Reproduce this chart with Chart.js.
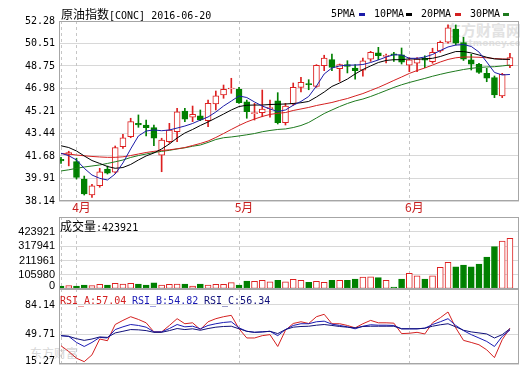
<!DOCTYPE html>
<html>
<head>
<meta charset="utf-8">
<title>原油指数[CONC] 2016-06-20</title>
<script src="https://cdn.jsdelivr.net/npm/chart.js@4.4.1/dist/chart.umd.min.js"></script>
<style>
  html, body { margin: 0; padding: 0; background: #fff; }
  #wrap { position: relative; width: 520px; height: 365px; overflow: hidden; background: #fff; }
  #wrap canvas { position: absolute; left: 0; }
  .t { position: absolute; white-space: nowrap; font: 10px 'DejaVu Sans Mono', monospace; line-height: 12px; color: #000; }
  .cjk { font: 12px 'Noto Sans CJK SC', sans-serif; line-height: 12px; }
  .mk { position: absolute; width: 6px; height: 3px; top: 13px; }
  .wm { position: absolute; white-space: nowrap; color: #e2e2e2; font-family: 'Noto Sans CJK SC', sans-serif; }
</style>
</head>
<body>
<div id="wrap">
  <div class="wm" style="left:446px;top:22px;font-size:15px;font-weight:bold;line-height:16px;">东方财富网</div>
  <div class="wm" style="left:451px;top:38px;font:bold 9px 'DejaVu Sans';line-height:10px;">eastmoney.com</div>
  <div class="wm" style="left:30px;top:346px;font-size:12px;line-height:13px;color:#d6d6d6;">东方财富</div>

  <canvas id="main" width="520" height="216" style="top:0"></canvas>
  <canvas id="vol" width="520" height="74" style="top:216px"></canvas>
  <canvas id="rsi" width="520" height="80" style="top:289px"></canvas>

  <div class="t" style="left:61px;top:8px;"><span class="cjk">原油指数</span>[CONC] 2016-06-20</div>
  <div class="t" style="left:331px;top:8px;">5PMA</div><div class="mk" style="left:359px;background:#1c1ca8;"></div>
  <div class="t" style="left:374px;top:8px;">10PMA</div><div class="mk" style="left:406px;background:#000;"></div>
  <div class="t" style="left:421px;top:8px;">20PMA</div><div class="mk" style="left:455px;background:#d42020;"></div>
  <div class="t" style="left:470px;top:8px;">30PMA</div><div class="mk" style="left:503px;background:#1e7a1e;"></div>

  <div class="t" style="left:60px;top:220px;"><span class="cjk">成交量</span>:423921</div>

  <div class="t" style="left:60px;top:295px;color:#d42020;">RSI_A:57.04</div>
  <div class="t" style="left:132px;top:295px;color:#1a1ab4;">RSI_B:54.82</div>
  <div class="t" style="left:204px;top:295px;color:#10107a;">RSI_C:56.34</div>
</div>
<script>
// 原油指数[CONC] daily candles, 2016-03-30 .. 2016-06-20 (59 sessions)

const opens = [41.42, 41.80, 41.23, 39.87, 38.61, 39.34, 40.65, 40.40, 42.41, 43.19,
  44.24, 44.11, 43.90, 41.75, 42.80, 43.58, 45.21, 44.72, 44.84, 44.45,
  45.76, 46.47, 46.94, 46.92, 45.94, 45.00, 45.08, 45.40, 46.00, 44.29,
  45.76, 47.07, 47.34, 47.15, 48.77, 49.24, 48.53, 48.85, 48.59, 48.41,
  49.29, 49.77, 49.50, 49.71, 49.63, 48.82, 48.96, 49.35, 49.08, 49.92,
  50.61, 51.65, 50.59, 49.22, 48.88, 48.17, 47.83, 46.39, 48.77];
const highs = [41.57, 42.05, 41.50, 40.10, 39.45, 40.71, 40.89, 42.46, 43.38, 44.64,
  44.90, 44.50, 44.11, 43.07, 44.24, 45.42, 45.42, 45.60, 45.29, 46.07,
  46.78, 47.25, 47.78, 47.07, 46.07, 45.81, 46.86, 46.07, 46.65, 45.81,
  47.41, 47.86, 47.67, 48.85, 49.59, 49.69, 48.90, 49.16, 48.85, 49.37,
  49.90, 50.21, 49.69, 49.82, 50.16, 49.40, 49.40, 49.55, 50.14, 50.71,
  51.97, 51.97, 51.00, 49.66, 48.96, 48.56, 47.96, 48.17, 49.74];
const lows = [41.10, 40.90, 39.87, 38.61, 38.43, 39.22, 40.26, 40.32, 42.28, 43.11,
  43.93, 43.25, 42.48, 40.44, 42.67, 42.80, 44.37, 44.37, 44.45, 43.98,
  45.29, 46.21, 46.60, 45.81, 44.64, 44.50, 44.76, 44.72, 44.19, 44.11,
  45.66, 46.70, 46.88, 47.07, 48.38, 48.38, 47.54, 48.20, 47.72, 47.94,
  49.11, 49.24, 48.98, 49.11, 48.90, 48.30, 48.30, 48.61, 48.96, 49.82,
  50.53, 50.40, 49.18, 48.43, 48.17, 47.51, 46.26, 46.26, 48.61];
const closes = [41.28, 41.95, 40.00, 38.69, 39.34, 40.44, 40.32, 42.33, 43.11, 44.37,
  44.11, 43.90, 43.07, 42.93, 43.72, 45.15, 44.56, 44.95, 44.50, 45.81,
  46.41, 46.92, 46.98, 45.86, 45.15, 45.05, 45.37, 45.43, 44.29, 45.60,
  47.07, 47.46, 47.28, 48.80, 49.37, 48.64, 48.85, 48.72, 48.38, 49.16,
  49.82, 49.55, 49.54, 49.59, 49.04, 49.22, 49.30, 49.20, 49.82, 50.61,
  51.75, 50.53, 49.29, 48.88, 48.25, 47.78, 46.47, 48.09, 49.40];

const ma5 = [41.89, 41.70, 41.36, 40.71, 40.18, 39.92, 39.79, 40.26, 41.13, 42.23,
  43.25, 43.64, 43.72, 43.66, 43.72, 43.87, 44.03, 44.23, 44.50, 44.74,
  45.13, 45.60, 45.99, 46.39, 46.27, 45.92, 45.60, 45.37, 45.17, 45.29,
  45.66, 45.96, 46.35, 47.17, 48.12, 48.59, 48.75, 48.81, 48.82, 48.86,
  49.02, 49.22, 49.45, 49.63, 49.61, 49.35, 49.35, 49.45, 49.65, 49.96,
  50.24, 50.39, 50.43, 50.28, 49.84, 49.06, 48.24, 48.04, 48.08];
const ma10 = [42.48, 42.34, 42.07, 41.68, 41.32, 41.09, 40.85, 40.71, 40.77, 41.01,
  41.36, 41.68, 41.91, 42.23, 42.62, 43.09, 43.48, 43.76, 44.07, 44.35,
  44.66, 44.97, 45.29, 45.56, 45.66, 45.68, 45.68, 45.72, 45.74, 45.76,
  45.80, 45.86, 45.96, 46.31, 46.70, 47.14, 47.41, 47.72, 48.12, 48.47,
  48.75, 49.02, 49.18, 49.24, 49.24, 49.31, 49.28, 49.30, 49.35, 49.49,
  49.69, 49.88, 49.88, 49.77, 49.61, 49.43, 49.30, 49.27, 49.27];
const ma20 = [41.87, 41.83, 41.75, 41.69, 41.64, 41.60, 41.57, 41.57, 41.61, 41.71,
  41.83, 41.95, 42.04, 42.11, 42.16, 42.24, 42.34, 42.50, 42.66, 42.85,
  43.13, 43.44, 43.76, 44.07, 44.35, 44.58, 44.78, 44.94, 45.03, 45.09,
  45.25, 45.37, 45.49, 45.64, 45.76, 45.88, 46.04, 46.19, 46.39, 46.58,
  46.82, 47.06, 47.33, 47.61, 47.88, 48.16, 48.39, 48.59, 48.82, 49.06,
  49.26, 49.39, 49.45, 49.45, 49.43, 49.39, 49.33, 49.30, 49.27];
const ma30 = [40.50, 40.59, 40.71, 40.81, 40.89, 40.97, 41.09, 41.22, 41.36, 41.56,
  41.71, 41.83, 41.95, 42.04, 42.12, 42.23, 42.32, 42.44, 42.54, 42.74,
  42.97, 43.11, 43.17, 43.25, 43.34, 43.44, 43.58, 43.68, 43.76, 43.80,
  43.91, 44.07, 44.31, 44.66, 45.01, 45.29, 45.56, 45.80, 46.00, 46.15,
  46.35, 46.58, 46.82, 47.06, 47.27, 47.45, 47.61, 47.77, 47.94, 48.09,
  48.23, 48.35, 48.47, 48.56, 48.63, 48.67, 48.69, 48.75, 48.82];

const volumes = [22000, 25000, 22000, 30000, 25000, 35000, 30000, 42000, 37000, 42000,
  37000, 30000, 45000, 30000, 35000, 37000, 37000, 22000, 37000, 30000,
  35000, 35000, 47000, 30000, 59000, 57000, 65000, 54000, 65000, 54000,
  72000, 65000, 50000, 57000, 50000, 65000, 65000, 65000, 74000, 89000,
  91000, 84000, 65000, 15000, 74000, 117000, 97000, 74000, 97000, 161000,
  199000, 164000, 178000, 164000, 186000, 238000, 315000, 357000, 377000];

const rsiA = [36.5, 29.8, 22.0, 18.0, 25.9, 44.4, 42.4, 61.3, 66.1, 70.4,
  67.2, 63.3, 52.7, 52.7, 60.2, 68.1, 62.2, 63.3, 55.4, 64.5,
  68.1, 70.4, 72.0, 56.3, 45.6, 45.6, 48.3, 49.5, 35.7, 54.6,
  62.5, 64.5, 62.5, 70.4, 73.2, 62.2, 62.2, 60.2, 57.4, 62.2,
  66.1, 63.3, 63.3, 62.9, 50.7, 51.1, 52.2, 50.3, 63.3, 69.2,
  75.9, 57.4, 42.8, 40.4, 37.7, 31.8, 22.7, 43.6, 57.04];
const rsiB = [48.3, 47.5, 40.4, 35.7, 40.4, 46.3, 45.6, 55.4, 58.6, 61.3,
  60.2, 58.2, 52.7, 52.7, 56.6, 61.3, 58.6, 59.3, 56.3, 60.2,
  62.2, 63.7, 64.5, 57.4, 53.4, 52.2, 52.7, 53.4, 48.3, 55.4,
  60.2, 62.2, 62.2, 64.5, 65.2, 61.7, 60.2, 58.6, 56.3, 59.3,
  61.0, 60.5, 60.5, 60.2, 56.3, 56.3, 56.3, 57.0, 61.3, 64.5,
  68.1, 60.2, 54.2, 49.5, 45.6, 41.6, 35.7, 47.5, 54.82];
const rsiC = [48.3, 47.5, 44.8, 42.8, 44.4, 46.8, 46.3, 51.5, 53.4, 55.4,
  55.1, 54.2, 52.2, 52.2, 54.2, 56.6, 55.4, 56.3, 54.6, 56.6,
  58.2, 59.0, 59.3, 56.3, 53.4, 52.2, 52.7, 53.4, 50.7, 55.4,
  58.2, 59.0, 59.3, 60.5, 61.3, 60.2, 59.0, 58.2, 57.4, 59.0,
  59.3, 59.3, 59.3, 59.3, 56.3, 56.3, 56.3, 57.0, 59.3, 61.0,
  62.2, 58.6, 54.6, 52.7, 51.5, 50.3, 45.6, 49.5, 56.34];

// axis ticks as printed on the picture
const priceTicks = [38.14, 39.91, 41.68, 43.44, 45.21, 46.98, 48.75, 50.51, 52.28];
const volTicks = [0, 105980, 211961, 317941, 423921];
const rsiTicks = [15.27, 49.71, 84.14];
const monthTicks = [2, 23, 45];
const monthLabels = ['4月', '5月', '6月'];
const monthLines = [0, 2, 23, 45];

// colours
const RED = '#dd2020';
const GREEN = '#008000';
const GRID = '#d8d8d8';

// x range so that candle 0 sits at x=61 and candle 58 at x=510
const X_MIN = -0.26;
const X_MAX = 59.17;

Chart.defaults.animation = false;
Chart.defaults.font.family = "'DejaVu Sans Mono', monospace";

const up = closes.map((c, i) => c >= opens[i]);
const xy = arr => arr.map((v, i) => ({ x: i, y: v }));

// dashed month lines + panel frame
const framePlugin = {
    id: 'frame',
    beforeDatasetsDraw(chart) {
        const { ctx, chartArea: a } = chart;
        const x = chart.scales.x;
        ctx.save();
        ctx.strokeStyle = '#c6c6c6';
        ctx.lineWidth = 1;
        ctx.setLineDash([3, 3]);
        monthLines.forEach(i => {
            const px = Math.round(x.getPixelForValue(i)) + 0.5;
            ctx.beginPath();
            ctx.moveTo(px, a.top);
            ctx.lineTo(px, a.bottom);
            ctx.stroke();
        });
        ctx.restore();
    },
    afterDraw(chart) {
        const { ctx, chartArea: a } = chart;
        ctx.save();
        ctx.strokeStyle = '#a6a6a6';
        ctx.lineWidth = 1;
        ctx.strokeRect(Math.round(a.left) + 0.5, Math.round(a.top) + 0.5,
            Math.round(a.right - a.left) - 1, Math.round(a.bottom - a.top) - 1);

        // lowest tick label sits a little above its grid line, like the original
        const lift = chart.options.bottomLabelLift;
        if (lift) {
            const y = chart.scales.y;
            const t = chart.options.bottomLabel;
            const f = y.options.ticks.font;
            ctx.font = f.size + 'px ' + (f.family || Chart.defaults.font.family);
            ctx.fillStyle = '#000';
            ctx.textAlign = 'right';
            ctx.textBaseline = 'middle';
            ctx.fillText(t.text, y.right - 4, y.getPixelForValue(t.value) - lift);
        }
        ctx.restore();
    }
};

function yAxis(min, max, ticks, fmt, font, skipFirst) {
    return {
        min: min,
        max: max,
        beginAtZero: false,
        afterBuildTicks: s => { s.ticks = ticks.map(v => ({ value: v })); },
        ticks: {
            callback: (v, i) => (skipFirst && i === 0) ? '' : fmt(ticks[i]),
            color: '#000', font: font, padding: 4, autoSkip: false
        },
        grid: { color: GRID, drawTicks: false },
        border: { display: false },
        afterFit: s => { s.width = 59; s.paddingTop = 0; s.paddingBottom = 0; }
    };
}

const hiddenX = { type: 'linear', min: X_MIN, max: X_MAX, offset: false, display: false };

function lineSet(label, data, color) {
    return { type: 'line', label: label, data: xy(data), borderColor: color, borderWidth: 1,
        pointRadius: 0, tension: 0, order: 1 };
}

// price panel
new Chart(document.getElementById('main'), {
    type: 'bar',
    data: {
        datasets: [
            lineSet('5PMA', ma5, '#1c1ca8'),
            lineSet('10PMA', ma10, '#000000'),
            lineSet('20PMA', ma20, '#d42020'),
            lineSet('30PMA', ma30, '#1e7a1e'),
            {
                label: 'body',
                data: opens.map((o, i) => ({ x: i, y: [o, closes[i]] })),
                backgroundColor: up.map(u => u ? '#ffffff' : GREEN),
                borderColor: up.map(u => u ? RED : GREEN),
                borderWidth: 1,
                borderSkipped: false,
                barThickness: 6,
                minBarLength: 1,
                grouped: false,
                order: 2
            },
            {
                label: 'wick',
                data: lows.map((l, i) => ({ x: i, y: [l, highs[i]] })),
                backgroundColor: up.map(u => u ? RED : GREEN),
                barThickness: 1,
                grouped: false,
                order: 3
            }
        ]
    },
    options: {
        responsive: false,
        events: [],
        layout: { padding: { top: 21, right: 1, left: 0, bottom: 0 } },
        plugins: { legend: { display: false }, tooltip: { enabled: false } },
        scales: {
            x: {
                type: 'linear', min: X_MIN, max: X_MAX, offset: false,
                grid: { display: false, drawTicks: false },
                border: { display: false },
                afterBuildTicks: s => { s.ticks = monthTicks.map(v => ({ value: v })); },
                ticks: {
                    callback: (v, i) => monthLabels[i],
                    color: '#c81e1e',
                    font: { family: "'Noto Sans CJK SC', sans-serif", size: 12, lineHeight: 1 },
                    padding: 0, labelOffset: 5, maxRotation: 0, autoSkip: false
                },
                afterFit: s => { s.height = 15; s.paddingLeft = 0; s.paddingRight = 0; }
            },
            y: yAxis(38.14, 52.28, priceTicks, v => v.toFixed(2), { size: 10 }, false)
        }
    },
    plugins: [framePlugin]
});

// volume panel
new Chart(document.getElementById('vol'), {
    type: 'bar',
    data: {
        datasets: [{
            label: '成交量',
            data: xy(volumes),
            backgroundColor: up.map(u => u ? '#ffffff' : GREEN),
            borderColor: up.map(u => u ? RED : GREEN),
            borderWidth: 1,
            borderSkipped: false,
            barThickness: 6,
            grouped: false
        }]
    },
    options: {
        responsive: false,
        events: [],
        bottomLabelLift: 3,
        bottomLabel: { value: volTicks[0], text: String(volTicks[0]) },
        layout: { padding: { top: 1, right: 1, left: 0, bottom: 1 } },
        plugins: { legend: { display: false }, tooltip: { enabled: false } },
        scales: {
            x: hiddenX,
            y: yAxis(0, 535000, volTicks, v => String(v),
                { family: "'Liberation Sans', sans-serif", size: 11 }, true)
        }
    },
    plugins: [framePlugin]
});

// RSI panel
new Chart(document.getElementById('rsi'), {
    type: 'line',
    data: {
        datasets: [
            lineSet('RSI_C', rsiC, '#10107a'),
            lineSet('RSI_B', rsiB, '#1a1ab4'),
            lineSet('RSI_A', rsiA, '#d42020')
        ]
    },
    options: {
        responsive: false,
        events: [],
        bottomLabelLift: 2.5,
        bottomLabel: { value: rsiTicks[0], text: rsiTicks[0].toFixed(2) },
        layout: { padding: { top: 0, right: 1, left: 0, bottom: 5 } },
        plugins: { legend: { display: false }, tooltip: { enabled: false } },
        scales: {
            x: hiddenX,
            y: yAxis(15.27, 102.7, rsiTicks, v => v.toFixed(2), { size: 10 }, true)
        }
    },
    plugins: [framePlugin]
});
</script>
</body>
</html>
